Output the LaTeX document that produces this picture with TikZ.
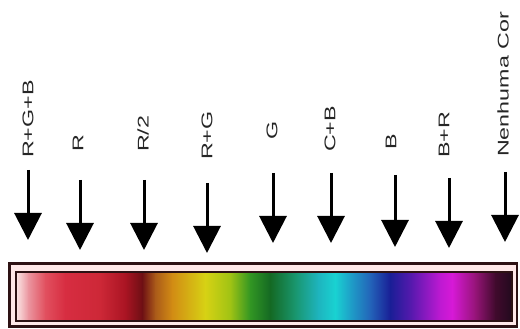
\documentclass[tikz,border=0pt]{standalone}
\usepackage{fontspec}
\setmainfont{Liberation Sans}
\usepackage{graphicx}
\usepackage{tikz}
\usetikzlibrary{arrows.meta}
\definecolor{frame}{RGB}{45,18,20}
\definecolor{gap}{RGB}{255,232,232}
% spectrum stops, left to right
\definecolor{sp00}{RGB}{250,225,225}
\definecolor{sp01}{RGB}{235,150,160}
\definecolor{sp02}{RGB}{225,80,95}
\definecolor{sp03}{RGB}{215,45,65}
\definecolor{sp04}{RGB}{205,40,55}
\definecolor{sp05}{RGB}{170,20,35}
\definecolor{sp06}{RGB}{110,15,20}
\definecolor{sp07}{RGB}{170,90,25}
\definecolor{sp08}{RGB}{210,140,20}
\definecolor{sp09}{RGB}{215,210,20}
\definecolor{sp10}{RGB}{160,195,20}
\definecolor{sp11}{RGB}{50,150,35}
\definecolor{sp12}{RGB}{20,105,35}
\definecolor{sp13}{RGB}{25,150,110}
\definecolor{sp14}{RGB}{30,180,190}
\definecolor{sp15}{RGB}{25,210,210}
\definecolor{sp16}{RGB}{30,160,200}
\definecolor{sp17}{RGB}{35,100,185}
\definecolor{sp18}{RGB}{25,30,150}
\definecolor{sp19}{RGB}{90,25,175}
\definecolor{sp20}{RGB}{190,25,210}
\definecolor{sp21}{RGB}{215,25,215}
\definecolor{sp22}{RGB}{150,20,120}
\definecolor{sp23}{RGB}{65,10,45}
\definecolor{sp24}{RGB}{35,10,30}

\begin{document}
\begin{tikzpicture}[x=1pt,y=1pt,
  lbl/.style={rotate=90, anchor=west, inner sep=0pt, text=black!85,
    font=\fontsize{15.5}{18}\selectfont},
  arr/.style={-{Triangle[length=27pt, width=27pt]}, line width=3pt}]
  \useasboundingbox (0,0) rectangle (520,329);
  % labels and arrows (y = 329 - pixel row)
  \foreach \name/\xl/\yl/\xa/\ya/\yb/\txt in {
      rgb/28/158/28/170/240/R+G+B,
      r/78/152/80/180/250/R,
      rhalf/143/152/144/180/250/{R/2},
      rg/207/160/207/183/253/R+G,
      g/272/140/273/173/243/G,
      cb/330/152/331/173/243/C+B,
      b/391/150/395/175/247/B,
      br/444/158/449/178/248/B+R,
      none/503/157/505/172/242/Nenhuma Cor} {
    \node[lbl] (l-\name) at (\xl,329-\yl) {\scalebox{1.5}[1]{\txt}};
    \coordinate (a-\name) at (\xa,329-\ya);
    \coordinate (t-\name) at (\xa,329-\yb);
    \draw[arr] (a-\name) -- (t-\name);
  }
  % colour bar
  \draw[frame, line width=2.5pt, fill=gap] (9.5,2.5) rectangle (517,65.5);
  \fill[sp12] (16,8) rectangle (511.5,56.5);
  \foreach \xa/\ca/\xb/\cb in {
      17/sp00/28/sp01, 28/sp01/45/sp02, 45/sp02/65/sp03, 65/sp03/100/sp04,
      100/sp04/125/sp05, 125/sp05/142/sp06, 142/sp06/155/sp07,
      155/sp07/172/sp08, 172/sp08/205/sp09, 205/sp09/230/sp10,
      230/sp10/250/sp11, 250/sp11/270/sp12, 270/sp12/295/sp13,
      295/sp13/318/sp14, 318/sp14/335/sp15, 335/sp15/350/sp16,
      350/sp16/370/sp17, 370/sp17/390/sp18, 390/sp18/412/sp19,
      412/sp19/440/sp20, 440/sp20/452/sp21, 452/sp21/475/sp22,
      475/sp22/495/sp23, 495/sp23/511/sp24}
    \shade[left color=\ca, right color=\cb] (\xa,8) rectangle (\xb+0.4,56.5);
  \draw[frame, line width=2pt] (16,8) rectangle (511.5,56.5);
\end{tikzpicture}
\end{document}
